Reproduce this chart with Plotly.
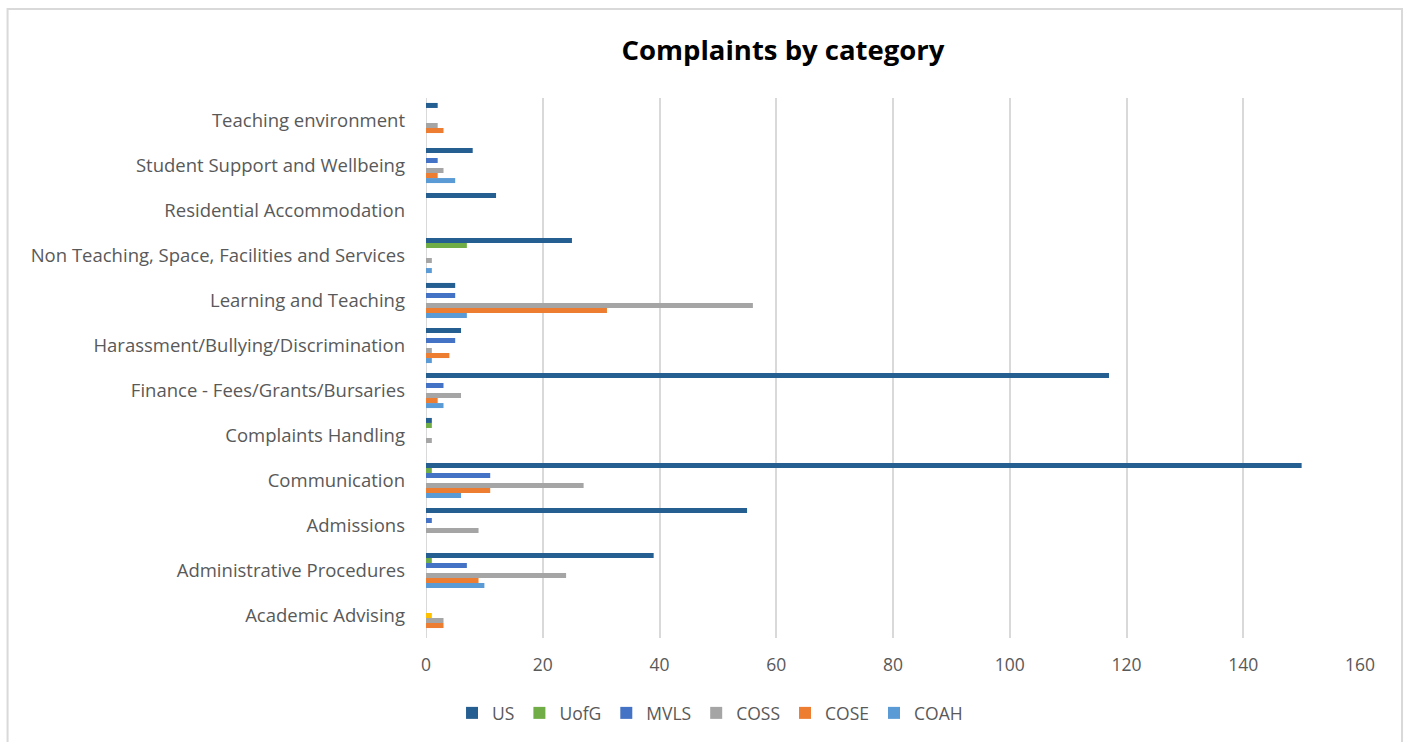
import plotly.graph_objects as go

categories = [
    "Academic Advising",
    "Administrative Procedures",
    "Admissions",
    "Communication",
    "Complaints Handling",
    "Finance - Fees/Grants/Bursaries",
    "Harassment/Bullying/Discrimination",
    "Learning and Teaching",
    "Non Teaching, Space, Facilities and Services",
    "Residential Accommodation",
    "Student Support and Wellbeing",
    "Teaching environment",
]

US   = [None, 39, 55, 150, 1, 117, 6, 5, 25, 12, 8, 2]
UofG = [None, 1, None, 1, 1, None, None, None, 7, None, None, None]
MVLS = [None, 7, 1, 11, None, 3, 5, 5, None, None, 2, None]
OTHER = [1, None, None, None, None, None, None, None, None, None, None, None]
COSS = [3, 24, 9, 27, 1, 6, 1, 56, 1, None, 3, 2]
COSE = [3, 9, None, 11, None, 2, 4, 31, None, None, 2, 3]
COAH = [None, 10, None, 6, None, 3, 1, 7, 1, None, 5, None]

series = [
    ("US", US, "#255E91", True),
    ("UofG", UofG, "#70AD47", True),
    ("MVLS", MVLS, "#4472C4", True),
    ("Other", OTHER, "#FFC000", False),
    ("COSS", COSS, "#A5A5A5", True),
    ("COSE", COSE, "#ED7D31", True),
    ("COAH", COAH, "#5B9BD5", True),
]
x_ticks = [0, 20, 40, 60, 80, 100, 120, 140, 160]

fig = go.Figure()
for name, vals, color, show in reversed(series):
    fig.add_trace(go.Bar(
        y=categories, x=vals, name=name, orientation="h",
        marker=dict(color=color, line=dict(width=0)),
        showlegend=show,
    ))

font_family = "Open Sans, Liberation Sans, Arial"
fig.update_layout(
    width=1406, height=742,
    margin=dict(l=426, r=46, t=98, b=104),
    paper_bgcolor="white", plot_bgcolor="white",
    barmode="group", bargap=0.22, bargroupgap=0,
    title=dict(text="<b>Complaints by category</b>", x=783/1406, xanchor="center",
               xref="container", y=1-50/742, yanchor="middle", yref="container",
               font=dict(family=font_family, size=27.5, color="#000000")),
    xaxis=dict(range=[0, 160], tickvals=x_ticks, showgrid=True, gridcolor="#D9D9D9",
               gridwidth=2, zeroline=False, showline=False, ticks="",
               tickfont=dict(family=font_family, size=17.5, color="#595959"), ticklabelstandoff=14),
    yaxis=dict(categoryorder="array", categoryarray=categories, showgrid=False,
               showline=False, ticks="", ticklabelstandoff=20,
               tickfont=dict(family=font_family, size=18.5, color="#595959")),
    legend=dict(orientation="h", traceorder="reversed", x=0.505, xanchor="center", xref="container",
                y=1-713/742, yanchor="middle", yref="container",
                font=dict(family=font_family, size=17.5, color="#595959"),
                itemwidth=30, tracegroupgap=0),
    font=dict(family=font_family),
    shapes=[
        dict(type="line", xref="x", yref="paper", x0=0, x1=0, y0=0, y1=1,
             line=dict(color="#D9D9D9", width=2), layer="below"),
        dict(type="rect", xref="paper", yref="paper", x0=-0.448, x1=1.045, y0=-0.21, y1=1.165,
             line=dict(color="#D9D9D9", width=2), fillcolor="rgba(0,0,0,0)"),
    ],
)

fig.write_html("out.html")
